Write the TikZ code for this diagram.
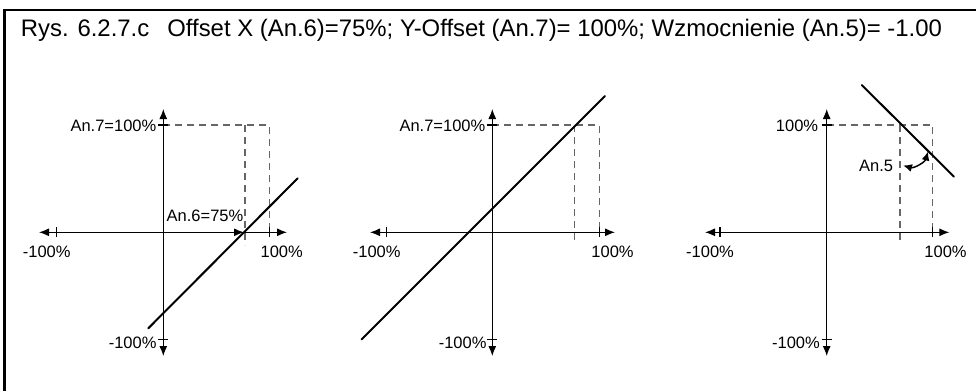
\documentclass[tikz,border=0pt]{standalone}
\usepackage{fontspec}
\setmainfont{Liberation Sans}
\usetikzlibrary{arrows.meta}
\begin{document}
\begin{tikzpicture}[x=1pt,y=-1pt,
  ax/.style={line width=1.1pt,{Latex[length=10pt,width=8pt]}-{Latex[length=10pt,width=8pt]}},
  tk/.style={line width=1.1pt},
  dsh/.style={line width=1.4pt,draw=black!60,dash pattern=on 7pt off 5pt},
  curve/.style={line width=2pt,line cap=round},
  lbl/.style={inner sep=0pt,font=\fontsize{16.5}{19}\selectfont},
  ttl/.style={inner sep=0pt,font=\fontsize{23.9}{28}\selectfont}]
\useasboundingbox (0,0) rectangle (976,391);
% frame
\draw[line width=2.5pt] (4.5,391) -- (4.5,10) -- (976,10);
\node[ttl,anchor=base west] (title) at (20.7,36) {Rys. 6.2.7.c\hspace{18pt}Offset X (An.6)=75\%; Y-Offset (An.7)= 100\%; Wzmocnienie (An.5)= -1.00};

% ---------- panel 1 ----------
\coordinate (o1) at (163.3,232.3);
\draw[dsh] (163.3,125) -- (269.3,125) -- (269.3,236);
\draw[dsh] (245,125) -- (245,245);
\draw[ax] (39,232.3) -- (287,232.3);
\draw[ax] (163.3,109) -- (163.3,356);
\draw[tk] (56.7,227.3) -- (56.7,237.3) (269.3,227.3) -- (269.3,237.3)
          (158.3,125) -- (168.3,125) (158.3,339.3) -- (168.3,339.3);
\draw[line width=1.1pt,-{Latex[length=10pt,width=8pt]}] (o1) -- (244,232.3);
\draw[curve] (148.3,328.3) -- (297.7,178.3);
\node[lbl,anchor=east] (a7a) at (156.5,126) {An.7=100\%};
\node[lbl] (a6) at (205,216) {An.6=75\%};
\node[lbl] (m1) at (46.7,252) {-100\%};
\node[lbl] (p1) at (281.7,252) {100\%};
\node[lbl,anchor=east] (b1) at (156.7,343) {-100\%};

% ---------- panel 2 ----------
\coordinate (o2) at (492.3,232.3);
\draw[dsh] (492.3,125) -- (599.3,125) -- (599.3,236);
\draw[dsh] (574.3,125) -- (574.3,240);
\draw[ax] (370,232.3) -- (615,232.3);
\draw[ax] (492.3,109) -- (492.3,356);
\draw[tk] (386.7,227.3) -- (386.7,237.3) (599.3,227.3) -- (599.3,237.3)
          (487.3,125) -- (497.3,125) (487.3,339.3) -- (497.3,339.3);
\draw[curve] (361.7,339.3) -- (605,96);
\node[lbl,anchor=east] (a7b) at (485.5,126) {An.7=100\%};
\node[lbl] (m2) at (376.7,252) {-100\%};
\node[lbl] (p2) at (612.5,252) {100\%};
\node[lbl,anchor=east] (b2) at (486.7,343) {-100\%};

% ---------- panel 3 ----------
\coordinate (o3) at (826.7,232.3);
\draw[dsh] (826.7,125) -- (932.3,125) -- (932.3,236);
\draw[dsh] (900,125) -- (900,240);
\draw[ax] (705,232.3) -- (949.3,232.3);
\draw[ax] (826.7,109) -- (826.7,356);
\draw[tk] (720,227.3) -- (720,237.3) (932.3,227.3) -- (932.3,237.3)
          (821.7,125) -- (831.7,125) (821.7,339.3) -- (831.7,339.3);
\draw[curve] (861.7,85) -- (954,176.7);
\node[lbl,anchor=east] (c3) at (818.3,126) {100\%};
\node[lbl,anchor=east] (a5) at (893.3,166) {An.5};
\coordinate (a5s) at (903,165.5);
\coordinate (a5e) at (928,151.5);
\draw[line width=1.5pt,{Latex[length=9pt,width=8pt]}-{Latex[length=9pt,width=8pt]}] (a5s) to[bend right=45] (a5e);
\node[lbl] (m3) at (710,252) {-100\%};
\node[lbl] (p3) at (945.5,252) {100\%};
\node[lbl,anchor=east] (b3) at (820,343) {-100\%};
\end{tikzpicture}
\end{document}
